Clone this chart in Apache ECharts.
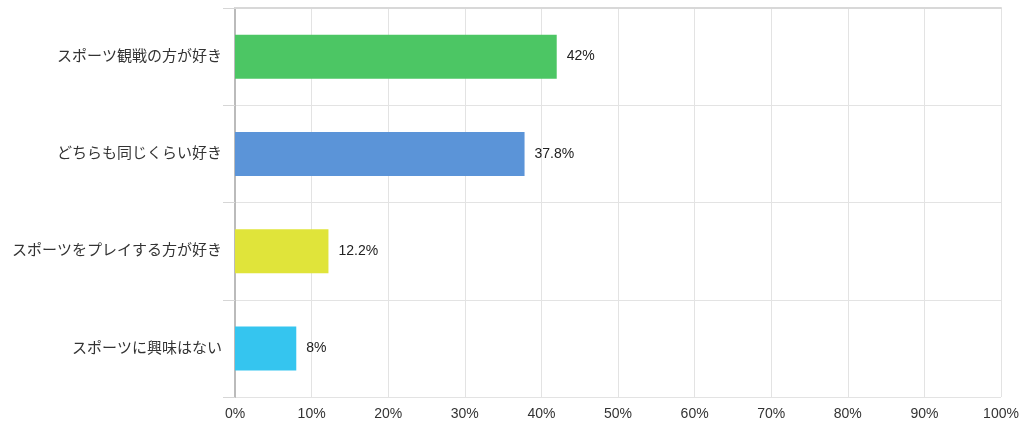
<!DOCTYPE html>
<html>
<head>
<meta charset="utf-8">
<script src="https://cdn.jsdelivr.net/npm/echarts@6/dist/echarts.min.js"></script>
<style>
  html, body { margin: 0; padding: 0; background: #fff; }
  #chart { width: 1024px; height: 432px; }
</style>
</head>
<body>
<div id="chart"></div>
<script>
var categories = ['スポーツ観戦の方が好き', 'どちらも同じくらい好き', 'スポーツをプレイする方が好き', 'スポーツに興味はない'];
var values = [42, 37.8, 12.2, 8];
var barColors = ['#4cc664', '#5b94d8', '#e0e43a', '#35c5ef'];

var myChart = echarts.init(document.getElementById('chart'));
var option = {
  animation: false,
  textStyle: { fontFamily: 'Arial, "Liberation Sans", "Noto Sans CJK JP", sans-serif' },
  grid: { left: 235, right: 23, top: 8, bottom: 35 },
  xAxis: [{
    type: 'value',
    min: 0,
    max: 100,
    interval: 10,
    axisLine: { show: false },
    axisTick: { show: false },
    axisLabel: { formatter: '{value}%', color: '#333', fontSize: 14, margin: 10 },
    splitLine: { lineStyle: { color: '#e3e3e3' } }
  }, {
    // top border line only
    type: 'value',
    position: 'top',
    min: 0,
    max: 100,
    axisLine: { show: true, lineStyle: { color: '#d8d8d8', width: 2 } },
    axisTick: { show: false },
    axisLabel: { show: false },
    splitLine: { show: false }
  }],
  yAxis: {
    type: 'category',
    inverse: true,
    data: categories,
    axisLine: { lineStyle: { color: '#bbb', width: 2 } },
    axisTick: { show: true, length: 12, lineStyle: { color: '#d6d6d6', width: 1 } },
    axisLabel: { color: '#333', fontSize: 15, margin: 13 },
    splitLine: { show: true, lineStyle: { color: '#e3e3e3' } }
  },
  series: [{
    type: 'bar',
    data: values.map(function (v, i) {
      return { value: v, itemStyle: { color: barColors[i] } };
    }),
    barWidth: 44,
    label: {
      show: true,
      position: 'right',
      distance: 10,
      color: '#222',
      fontSize: 14,
      formatter: '{c}%'
    }
  }]
};
option && myChart.setOption(option);
</script>
</body>
</html>
